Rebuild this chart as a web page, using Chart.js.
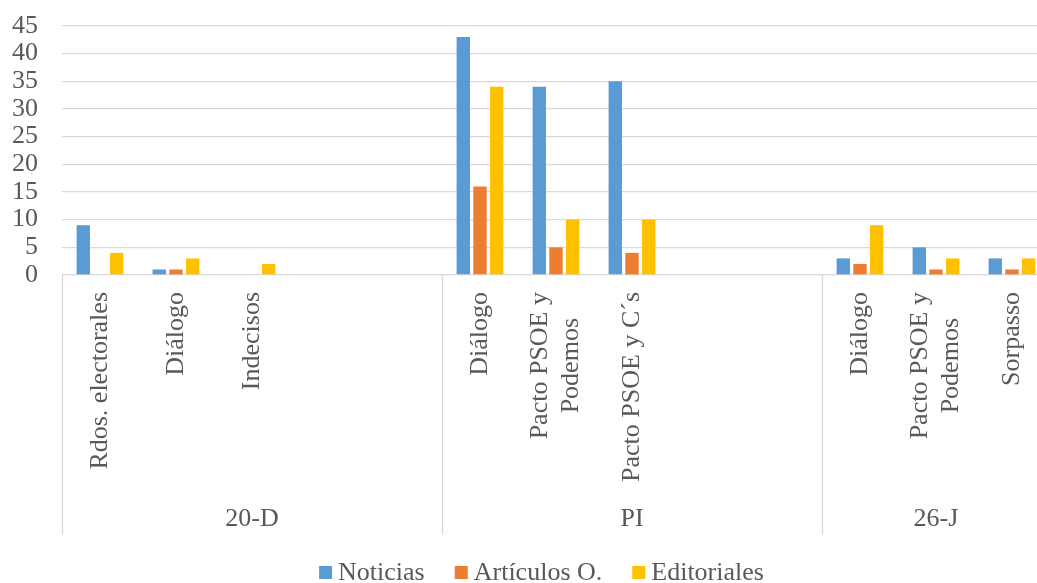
<!DOCTYPE html>
<html>
<head>
<meta charset="utf-8">
<script src="https://cdn.jsdelivr.net/npm/chart.js@4.4.0/dist/chart.umd.min.js"></script>
<style>
html, body { margin: 0; padding: 0; overflow: hidden; background: #fff; }
#wrap { width: 1083px; height: 583px; position: relative; }
</style>
</head>
<body>
<div id="wrap"><canvas id="barChart"></canvas></div>
<script>
// categories (empty slots are the gaps Excel left in each block)
var categories = [
  ["Rdos. electorales"], ["Diálogo"], ["Indecisos"], [""], [""],
  ["Diálogo"], ["Pacto PSOE y", "Podemos"], ["Pacto PSOE y C´s"], [""], [""],
  ["Diálogo"], ["Pacto PSOE y", "Podemos"], ["Sorpasso"]
];
var groups = ["20-D", "PI", "26-J"];
var groupSizes = [5, 5, 3];

var noticias = [9, 1, 0, null, null, 43, 34, 35, null, null, 3, 5, 3];
var articulos = [0, 1, 0, null, null, 16, 5, 4, null, null, 2, 1, 1];
var editoriales = [4, 3, 2, null, null, 34, 10, 10, null, null, 9, 3, 3];

var seriesNames = ["Noticias", "Artículos O.", "Editoriales"];
var seriesColors = ["#5B9BD5", "#ED7D31", "#FFC000"];
var yTicks = [0, 5, 10, 15, 20, 25, 30, 35, 40, 45];

var textColor = "#595959";
var lineColor = "#D9D9D9";
var font = '26px "Liberation Serif", "Times New Roman", serif';

// draws the category labels, block labels, separators and legend
var extras = {
  id: "extras",
  afterDraw: function(chart) {
    var ctx = chart.ctx;
    var xs = chart.scales.x;
    var area = chart.chartArea;
    var n = categories.length;
    var step = (area.right - area.left) / n;
    ctx.save();
    ctx.font = font;
    ctx.fillStyle = textColor;

    // separators below the axis
    ctx.strokeStyle = lineColor;
    ctx.lineWidth = 1.3;
    var pos = 0;
    var bounds = [0];
    for (var g = 0; g < groupSizes.length; g++) {
      pos = pos + groupSizes[g];
      bounds.push(pos);
    }
    for (var b = 0; b < bounds.length; b++) {
      var bx = Math.round(area.left + bounds[b] * step) + 0.5;
      ctx.beginPath();
      ctx.moveTo(bx, area.bottom);
      ctx.lineTo(bx, 535);
      ctx.stroke();
    }

    // rotated category labels
    for (var i = 0; i < n; i++) {
      var lines = categories[i];
      var cx = xs.getPixelForValue(i);
      var maxW = 0;
      for (var j = 0; j < lines.length; j++) {
        maxW = Math.max(maxW, ctx.measureText(lines[j]).width);
      }
      ctx.save();
      ctx.translate(cx, area.bottom + 17);
      ctx.rotate(-Math.PI / 2);
      ctx.textAlign = "center";
      ctx.textBaseline = "middle";
      for (var k = 0; k < lines.length; k++) {
        ctx.fillText(lines[k], -maxW / 2, (k - (lines.length - 1) / 2) * 31);
      }
      ctx.restore();
    }

    // block labels
    ctx.textAlign = "center";
    ctx.textBaseline = "middle";
    for (var m = 0; m < groups.length; m++) {
      var gx = area.left + (bounds[m] + bounds[m + 1]) / 2 * step;
      ctx.fillText(groups[m], gx, 519);
    }

    // legend
    var box = 13, gap = 6, spacing = 30;
    var total = 0;
    for (var s = 0; s < seriesNames.length; s++) {
      total += box + gap + ctx.measureText(seriesNames[s]).width;
      if (s < seriesNames.length - 1) total += spacing;
    }
    var lx = chart.width / 2 - total / 2;
    var ly = 572;
    ctx.textAlign = "left";
    for (var t = 0; t < seriesNames.length; t++) {
      ctx.fillStyle = seriesColors[t];
      ctx.fillRect(lx, ly - 6, box, box);
      lx += box + gap;
      ctx.fillStyle = textColor;
      ctx.fillText(seriesNames[t], lx, ly + 1);
      lx += ctx.measureText(seriesNames[t]).width + spacing;
    }
    ctx.restore();
  }
};

function makeDataset(index, values) {
  return {
    label: seriesNames[index],
    data: values,
    backgroundColor: seriesColors[index],
    categoryPercentage: 0.66,
    barPercentage: 0.8
  };
}

var ctxB = document.getElementById("barChart").getContext("2d");
var myBarChart = new Chart(ctxB, {
  type: "bar",
  data: {
    labels: categories,
    datasets: [
      makeDataset(0, noticias),
      makeDataset(1, articulos),
      makeDataset(2, editoriales)
    ]
  },
  options: {
    responsive: true,
    maintainAspectRatio: false,
    animation: false,
    layout: { padding: { top: 26, bottom: 308, left: 0, right: 33 } },
    plugins: {
      legend: { display: false },
      tooltip: { enabled: false }
    },
    scales: {
      x: { display: false },
      y: {
        min: yTicks[0],
        max: yTicks[yTicks.length - 1],
        afterFit: function(scale) {
          scale.width = 62;
          scale.paddingTop = 0;
          scale.paddingBottom = 0;
        },
        afterBuildTicks: function(scale) {
          scale.ticks = yTicks.map(function(v) { return { value: v }; });
        },
        ticks: {
          autoSkip: false,
          color: textColor,
          padding: 24,
          font: { family: '"Liberation Serif", "Times New Roman", serif', size: 26, lineHeight: 1 }
        },
        grid: { color: lineColor, drawTicks: false, lineWidth: 1.3 },
        border: { display: false }
      }
    }
  },
  plugins: [extras]
});
</script>
</body>
</html>
